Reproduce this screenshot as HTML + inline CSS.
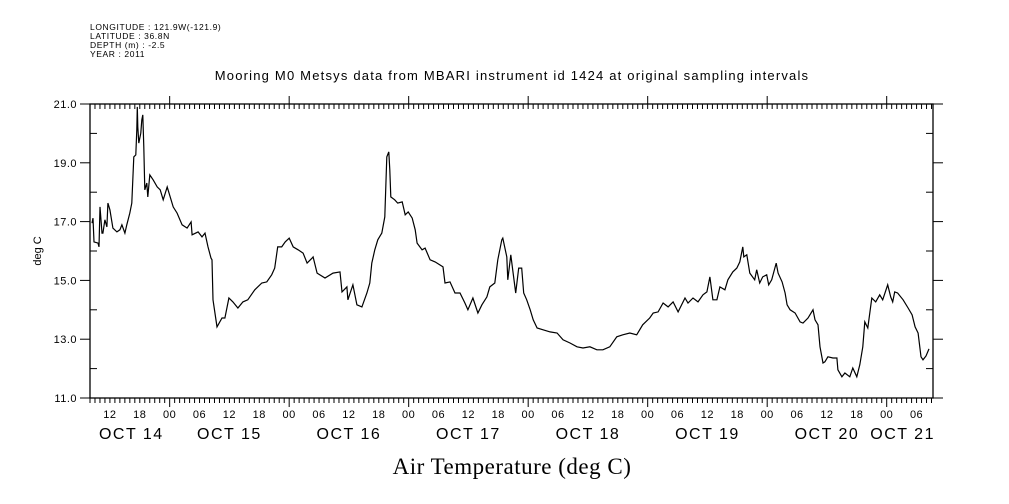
<!DOCTYPE html>
<html><head><meta charset="utf-8">
<style>
html,body{margin:0;padding:0;background:#fff;}
svg{display:block;font-family:"Liberation Sans",sans-serif;}
</style></head>
<body>
<svg id="chart" width="1009" height="504" viewBox="0 0 1009 504">
<g font-size="8.5" fill="#000" letter-spacing="0.6">
<text x="90" y="30">LONGITUDE : 121.9W(-121.9)</text>
<text x="90" y="39">LATITUDE : 36.8N</text>
<text x="90" y="48">DEPTH (m) : -2.5</text>
<text x="90" y="57">YEAR : 2011</text>
</g>
<text x="512" y="80" text-anchor="middle" font-size="13" letter-spacing="1.2">Mooring M0 Metsys data from MBARI instrument id 1424 at original sampling intervals</text>
<text transform="translate(41,251) rotate(-90)" text-anchor="middle" font-size="11">deg C</text>
<text x="512" y="474" text-anchor="middle" font-family="'Liberation Serif',serif" font-size="23" letter-spacing="0.5">Air Temperature (deg C)</text>
<g id="axes"></g>
<g id="plot"></g>
</svg>
<script>
const hours=[0.4,0.6,0.8,1.6,1.8,2.0,2.4,2.6,3.0,3.4,3.6,4.0,4.6,5.4,6.0,6.4,7.0,7.4,8.0,8.4,8.8,9.2,9.4,9.5,9.6,9.8,10.2,10.4,10.6,10.8,11.0,11.4,11.6,12.0,12.7,13.5,14.1,14.7,15.5,16.1,16.7,17.5,18.5,19.5,20.3,20.5,21.7,22.5,23.1,23.7,24.3,24.5,24.7,25.5,26.5,27.1,27.9,28.7,29.7,30.7,31.7,33.1,34.5,35.5,36.5,37.1,37.7,38.5,39.2,40.0,40.8,41.8,42.8,43.6,44.6,44.8,45.6,47.2,48.8,50.2,50.6,51.6,51.8,52.8,53.6,54.6,55.6,56.2,56.6,57.2,57.8,58.6,59.2,59.6,60.0,60.2,60.4,61.2,61.8,62.7,63.3,63.9,64.7,65.3,65.7,66.7,67.3,68.3,69.3,70.9,71.3,72.3,73.3,74.3,75.3,75.9,76.9,77.9,78.7,79.7,80.3,81.3,81.9,82.7,82.9,83.7,83.9,84.5,84.9,85.5,86.1,86.7,87.1,87.7,88.4,89.0,89.8,91.0,92.4,93.8,95.0,96.4,97.8,99.0,100.4,101.8,103.0,104.4,105.8,107.0,108.4,109.8,111.0,112.4,113.1,114.1,115.1,116.1,117.1,118.1,119.5,120.1,121.1,122.1,123.1,123.9,124.5,125.1,125.9,126.5,127.5,128.1,129.1,129.9,130.5,131.1,131.3,131.9,132.5,133.5,133.9,134.5,135.1,135.9,136.3,136.9,137.8,138.2,139.0,139.6,140.0,140.6,141.6,142.6,143.2,144.2,145.2,145.6,146.2,146.6,147.2,147.6,148.2,149.2,150.0,150.2,151.0,151.6,152.6,153.2,154.0,154.6,155.2,155.6,156.2,157.0,157.8,158.6,159.2,160.2,160.8,161.2,161.6,162.2,163.3,164.3,165.1,165.7,166.3,166.9,167.3,167.9,168.5];
const temps=[16.95,17.12,16.31,16.27,16.14,17.50,16.61,16.61,17.06,16.82,17.63,17.40,16.78,16.65,16.72,16.89,16.61,16.89,17.29,17.63,19.20,19.27,20.12,20.90,20.22,19.67,20.01,20.46,20.63,19.54,18.08,18.31,17.84,18.59,18.42,18.18,18.08,17.74,18.18,17.84,17.50,17.29,16.89,16.78,16.99,16.55,16.65,16.48,16.61,16.14,15.76,15.70,14.34,13.42,13.72,13.72,14.40,14.27,14.06,14.27,14.34,14.68,14.91,14.95,15.19,15.42,16.14,16.14,16.31,16.44,16.14,16.04,15.93,15.59,15.76,15.80,15.25,15.08,15.25,15.29,14.61,14.78,14.34,14.85,14.17,14.10,14.57,14.91,15.59,16.04,16.38,16.61,17.16,19.20,19.37,18.76,17.84,17.74,17.63,17.67,17.23,17.33,17.12,16.72,16.27,16.04,16.10,15.70,15.63,15.46,14.91,14.95,14.57,14.57,14.23,14.00,14.40,13.89,14.17,14.44,14.78,14.91,15.70,16.38,16.44,15.80,15.02,15.87,15.36,14.57,15.42,15.42,14.57,14.34,14.00,13.66,13.38,13.32,13.25,13.21,12.98,12.87,12.74,12.70,12.74,12.64,12.64,12.74,13.08,13.15,13.21,13.15,13.49,13.72,13.89,13.93,14.23,14.10,14.27,13.93,14.40,14.23,14.40,14.27,14.51,14.61,15.12,14.34,14.34,14.78,14.68,15.02,15.29,15.42,15.63,16.14,15.80,15.87,15.25,15.02,15.36,14.91,15.12,15.19,14.85,15.02,15.59,15.25,14.95,14.57,14.17,14.00,13.89,13.59,13.55,13.72,14.00,13.66,13.49,12.74,12.19,12.23,12.40,12.36,12.36,11.96,11.72,11.85,11.72,12.02,11.72,12.13,12.74,13.59,13.38,14.40,14.27,14.51,14.34,14.85,14.44,14.27,14.61,14.57,14.34,14.06,13.83,13.42,13.21,12.40,12.30,12.43,12.67];
const yTickLabels=["11.0","13.0","15.0","17.0","19.0","21.0"];
const yTickValues=[11,13,15,17,19,21];
const hourLabels=["12","18","00","06"];
const dayLabels=["OCT 14","OCT 15","OCT 16","OCT 17","OCT 18","OCT 19","OCT 20","OCT 21"];

const X0=90,X1=933,Y0=104,Y1=398,HMAX=169.3,VMIN=11,VMAX=21;
function xs(h){return X0+(h/HMAX)*(X1-X0);}
function ys(v){return Y1-(v-VMIN)/(VMAX-VMIN)*(Y1-Y0);}
const NS="http://www.w3.org/2000/svg";
const axes=document.getElementById('axes'),plot=document.getElementById('plot');
function mk(tag,attrs,parent){const e=document.createElementNS(NS,tag);for(const k in attrs)e.setAttribute(k,attrs[k]);parent.appendChild(e);return e;}

const frame=mk('rect',{x:X0,y:Y0,width:X1-X0,height:Y1-Y0,fill:'none',stroke:'#000','stroke-width':1.3},axes);



for(let h=0;h<=169;h++){
  const clock=(h+8)%24, x=xs(h), major=clock===0;
  const tb=mk('line',{x1:x,x2:x,y1:Y1,y2:Y1+(major?9:5),stroke:'#000','stroke-width':1},axes);
  
  
  const tt=mk('line',{x1:x,x2:x,y1:major?Y0-8:Y0,y2:Y0+5,stroke:'#000','stroke-width':1},axes);
  
  
  if(clock%6===0){
    const t=mk('text',{x:x,y:418,'text-anchor':'middle','font-size':11,'letter-spacing':0.5},axes);
    t.textContent=hourLabels[[12,18,0,6].indexOf(clock)];
    
    
  }
}
dayLabels.forEach((d,i)=>{
  let h=4+24*i;
  if(i===0)h=8.3; if(i===dayLabels.length-1)h=163.2;
  const t=mk('text',{x:xs(h),y:439,'text-anchor':'middle','font-size':16,'letter-spacing':1.5},axes);
  t.textContent=d;
  
  
});
for(let v=11;v<=21;v++){
  const y=ys(v), lab=yTickValues.indexOf(v);
  const tl=mk('line',{x1:lab>=0?X0-10:X0,x2:lab>=0?X0:X0+7,y1:y,y2:y,stroke:'#000'},axes);
  
  
  const tr=mk('line',{x1:lab>=0?X1:X1-7,x2:lab>=0?X1+10:X1,y1:y,y2:y,stroke:'#000'},axes);
  
  
  if(lab>=0){
    const t=mk('text',{x:X0-13,y:y+4,'text-anchor':'end','font-size':11,'letter-spacing':0.5},axes);
    t.textContent=yTickLabels[lab];
    
    
  }
}
const pts=hours.map((h,i)=>xs(h).toFixed(1)+','+ys(temps[i]).toFixed(1)).join(' ');
const line=mk('polyline',{points:pts,fill:'none',stroke:'#000','stroke-width':1.2,'stroke-linejoin':'miter'},plot);


</script>
</body></html>
